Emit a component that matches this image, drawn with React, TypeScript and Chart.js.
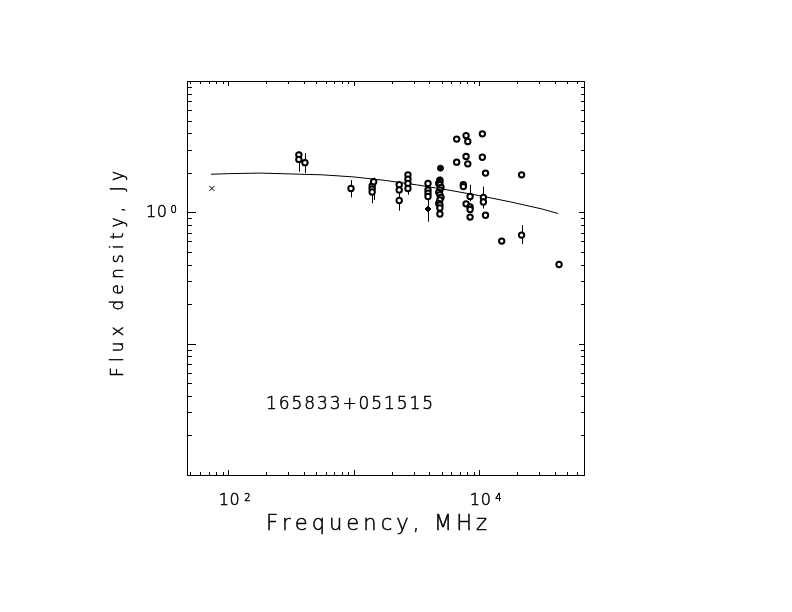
import { useEffect, useRef } from 'react';
import { Chart, registerables } from 'chart.js';

Chart.register(...registerables);

// fitted spectrum
const fitFreq = [72.8, 100, 178, 316, 562, 1000, 1778, 3162, 5623, 10000, 17783, 31623, 42364];
const fitFlux = [1.95, 1.97, 1.99, 1.96, 1.93, 1.86, 1.75, 1.62, 1.48, 1.34, 1.2, 1.06, 0.98];

// measurements (open markers); null = no error bar
const obsFreq = [
  365, 365, 408, 950,
  1400, 1400, 1400, 1440,
  2300, 2300, 2300,
  2700, 2700, 2700, 2700,
  3900, 3900, 3900, 3900,
  4850, 4850, 4750, 4850, 4950, 4850, 4750, 4850, 4950, 4850, 4750, 4850, 4850, 4850,
  6600, 6600, 7840, 7840, 8090, 8090, 10570, 10570, 11200, 21700,
  7460, 7460, 8440, 7840, 8440, 8440, 8440,
  10770, 10770, 11200, 15070, 21700, 43150,
];
const obsFlux = [
  2.74, 2.53, 2.39, 1.52,
  1.59, 1.51, 1.43, 1.71,
  1.62, 1.48, 1.23,
  1.93, 1.79, 1.66, 1.52,
  1.66, 1.48, 1.4, 1.32,
  1.76, 1.71, 1.66, 1.62, 1.55, 1.48, 1.42, 1.36, 1.3, 1.24, 1.17, 1.14, 1.08, 0.97,
  3.61, 2.41, 3.84, 2.66, 3.46, 2.34, 3.96, 2.63, 1.99, 1.93,
  1.62, 1.57, 1.32, 1.16, 1.1, 1.05, 0.92,
  1.3, 1.2, 0.95, 0.604, 0.671, 0.401,
];
const obsLo = [
  2.45, 2.04, 1.99, 1.3,
  null, 1.3, 1.17, 1.24,
  1.45, 1.3, 1.03,
  1.8, 1.62, 1.45, 1.36,
  1.5, 1.3, 1.2, 1.15,
  1.6, null, null, null, null, 1.3, null, null, 1.14, null, null, 1.04, null, null,
  null, null, null, null, null, null, null, null, null, null,
  null, null, 1.21, null, null, null, null,
  1.15, 1.07, null, null, 0.573, null,
];
const obsHi = [
  2.9, 2.7, 2.82, 1.76,
  null, 1.66, 1.6, 1.84,
  1.71, 1.66, 1.4,
  2.02, 1.93, 1.8, 1.66,
  1.76, 1.62, 1.55, 1.45,
  1.87, null, null, null, null, 1.62, null, null, 1.45, null, null, 1.25, null, null,
  null, null, null, null, null, null, null, null, null, null,
  null, null, 1.62, null, null, null, null,
  1.57, 1.3, null, null, 0.8, null,
];

// filled markers
const dotFreq = [4900];
const dotFlux = [2.17];
const diamondFreq = [3900];
const diamondFlux = [1.06];
const diamondLo = [0.848];
const diamondHi = [1.25];

// cross marker
const crossFreq = [74];
const crossFlux = [1.52];

const xMin = 46.9;
const xMax = 68200;
const yMin = 0.01;
const yMax = 10;
const xLabelPowers = [2, 4];
const yLabelPowers = [0];

const FONT = "'DejaVu Sans', sans-serif";

// thin stroke-font look: light face, darkened with a hairline stroke
function spaced(ctx: CanvasRenderingContext2D, text: string, x: number, y: number, width: number) {
  const chars = [...text];
  const widths = chars.map(c => ctx.measureText(c).width);
  const total = widths.reduce((a, b) => a + b, 0);
  const gap = chars.length > 1 ? (width - total) / (chars.length - 1) : 0;
  let cx = x;
  chars.forEach((c, i) => {
    ctx.fillText(c, cx, y);
    ctx.strokeText(c, cx, y);
    cx += widths[i] + gap;
  });
}

const pgplotFrame = {
  id: 'pgplotFrame',
  beforeDatasetsDraw(chart: any) {
    const ctx = chart.ctx;
    const xs = chart.scales.x;
    const ys = chart.scales.y;
    ctx.save();
    ctx.strokeStyle = '#000';
    ctx.lineWidth = 1;
    const bar = (f: number, lo: number | null, hi: number | null) => {
      if (lo == null || hi == null) return;
      const px = Math.round(xs.getPixelForValue(f)) + 0.5;
      ctx.beginPath();
      ctx.moveTo(px, ys.getPixelForValue(lo));
      ctx.lineTo(px, ys.getPixelForValue(hi));
      ctx.stroke();
    };
    obsFreq.forEach((f, i) => bar(f, obsLo[i], obsHi[i]));
    diamondFreq.forEach((f, i) => bar(f, diamondLo[i], diamondHi[i]));
    ctx.restore();
  },
  afterDraw(chart: any) {
    const ctx = chart.ctx;
    const { left, right, top, bottom } = chart.chartArea;
    const xs = chart.scales.x;
    const ys = chart.scales.y;
    ctx.save();
    ctx.strokeStyle = '#000';
    ctx.fillStyle = '#000';
    ctx.lineWidth = 1;
    ctx.strokeRect(Math.round(left) + 0.5, Math.round(top) + 0.5, Math.round(right - left), Math.round(bottom - top));

    ctx.beginPath();
    // x ticks, bottom and top
    for (let d = 1; d <= 5; d++) {
      for (let m = 1; m <= 9; m++) {
        const v = m * Math.pow(10, d);
        if (v < xMin || v > xMax) continue;
        const px = Math.round(xs.getPixelForValue(v)) + 0.5;
        const len = m === 1 ? 5 : 3;
        ctx.moveTo(px, bottom);
        ctx.lineTo(px, bottom - len);
        ctx.moveTo(px, top);
        ctx.lineTo(px, top + len);
      }
    }
    // y ticks, left and right
    for (let d = -2; d <= 1; d++) {
      for (let m = 1; m <= 9; m++) {
        const v = m * Math.pow(10, d);
        if (v < yMin || v > yMax) continue;
        const py = Math.round(ys.getPixelForValue(v)) + 0.5;
        const major = m === 1;
        ctx.moveTo(left, py);
        ctx.lineTo(left + (major ? 9 : 5), py);
        ctx.moveTo(right, py);
        ctx.lineTo(right - (major ? 5 : 3), py);
      }
    }
    ctx.stroke();

    ctx.textBaseline = 'alphabetic';
    ctx.textAlign = 'left';
    ctx.lineWidth = 0.5;
    // x tick labels
    xLabelPowers.forEach(p => {
      const px = xs.getPixelForValue(Math.pow(10, p));
      ctx.font = `200 16px ${FONT}`;
      spaced(ctx, '10', px - 9.5, 505, 21);
      ctx.font = `200 10px ${FONT}`;
      spaced(ctx, String(p), px + 16, 500.5, 0);
    });
    // y tick labels
    yLabelPowers.forEach(p => {
      const py = ys.getPixelForValue(Math.pow(10, p));
      ctx.font = `200 16px ${FONT}`;
      spaced(ctx, '10', 146, py + 4.5, 21);
      ctx.font = `200 10px ${FONT}`;
      spaced(ctx, String(p), 170.5, py + 0.5, 0);
    });

    // axis titles
    ctx.font = `200 21px ${FONT}`;
    spaced(ctx, 'Frequency, MHz', 266, 530, 221);
    ctx.save();
    ctx.translate(123, 377);
    ctx.rotate(-Math.PI / 2);
    ctx.font = `200 17px ${FONT}`;
    spaced(ctx, 'Flux density, Jy', 0, 0, 206);
    ctx.restore();

    // source name
    ctx.font = `200 17px ${FONT}`;
    spaced(ctx, '165833+051515', 266, 409, 167);
    ctx.restore();
  },
};

export default function App() {
  const canvasRef = useRef<HTMLCanvasElement>(null);
  const chartRef = useRef<Chart | null>(null);

  useEffect(() => {
    if (!canvasRef.current) return;
    if (chartRef.current) chartRef.current.destroy();

    const toPts = (xs: number[], ys: number[]) => xs.map((x, i) => ({ x, y: ys[i] }));

    chartRef.current = new Chart(canvasRef.current, {
      type: 'scatter',
      data: {
        datasets: [
          {
            data: toPts(obsFreq, obsFlux),
            pointStyle: 'circle',
            pointRadius: 2.7,
            borderWidth: 2,
            borderColor: '#000',
            backgroundColor: '#fff',
            order: 1,
          },
          {
            data: toPts(dotFreq, dotFlux),
            pointStyle: 'circle',
            pointRadius: 3,
            borderWidth: 1,
            borderColor: '#000',
            backgroundColor: '#000',
            order: 1,
          },
          {
            data: toPts(diamondFreq, diamondFlux),
            pointStyle: 'rectRot',
            pointRadius: 3,
            borderWidth: 1,
            borderColor: '#000',
            backgroundColor: '#000',
            order: 1,
          },
          {
            data: toPts(crossFreq, crossFlux),
            pointStyle: 'crossRot',
            pointRadius: 3.5,
            borderWidth: 1,
            borderColor: '#000',
            order: 1,
          },
          {
            type: 'line',
            data: toPts(fitFreq, fitFlux),
            showLine: true,
            pointRadius: 0,
            borderWidth: 1,
            borderColor: '#000',
            fill: false,
            tension: 0,
            order: 3,
          },
        ],
      } as any,
      options: {
        animation: false,
        responsive: true,
        maintainAspectRatio: false,
        devicePixelRatio: 1,
        layout: { padding: { left: 187, top: 81, right: 208, bottom: 137 } },
        plugins: { legend: { display: false }, tooltip: { enabled: false } },
        scales: {
          x: { type: 'logarithmic', min: xMin, max: xMax, display: false },
          y: { type: 'logarithmic', min: yMin, max: yMax, display: false },
        },
      },
      plugins: [pgplotFrame],
    });

    return () => {
      if (chartRef.current) {
        chartRef.current.destroy();
        chartRef.current = null;
      }
    };
  }, []);

  return (
    <div style={{ position: 'fixed', left: 0, top: 0, width: 792, height: 612, background: '#fff' }}>
      <canvas ref={canvasRef} />
    </div>
  );
}
